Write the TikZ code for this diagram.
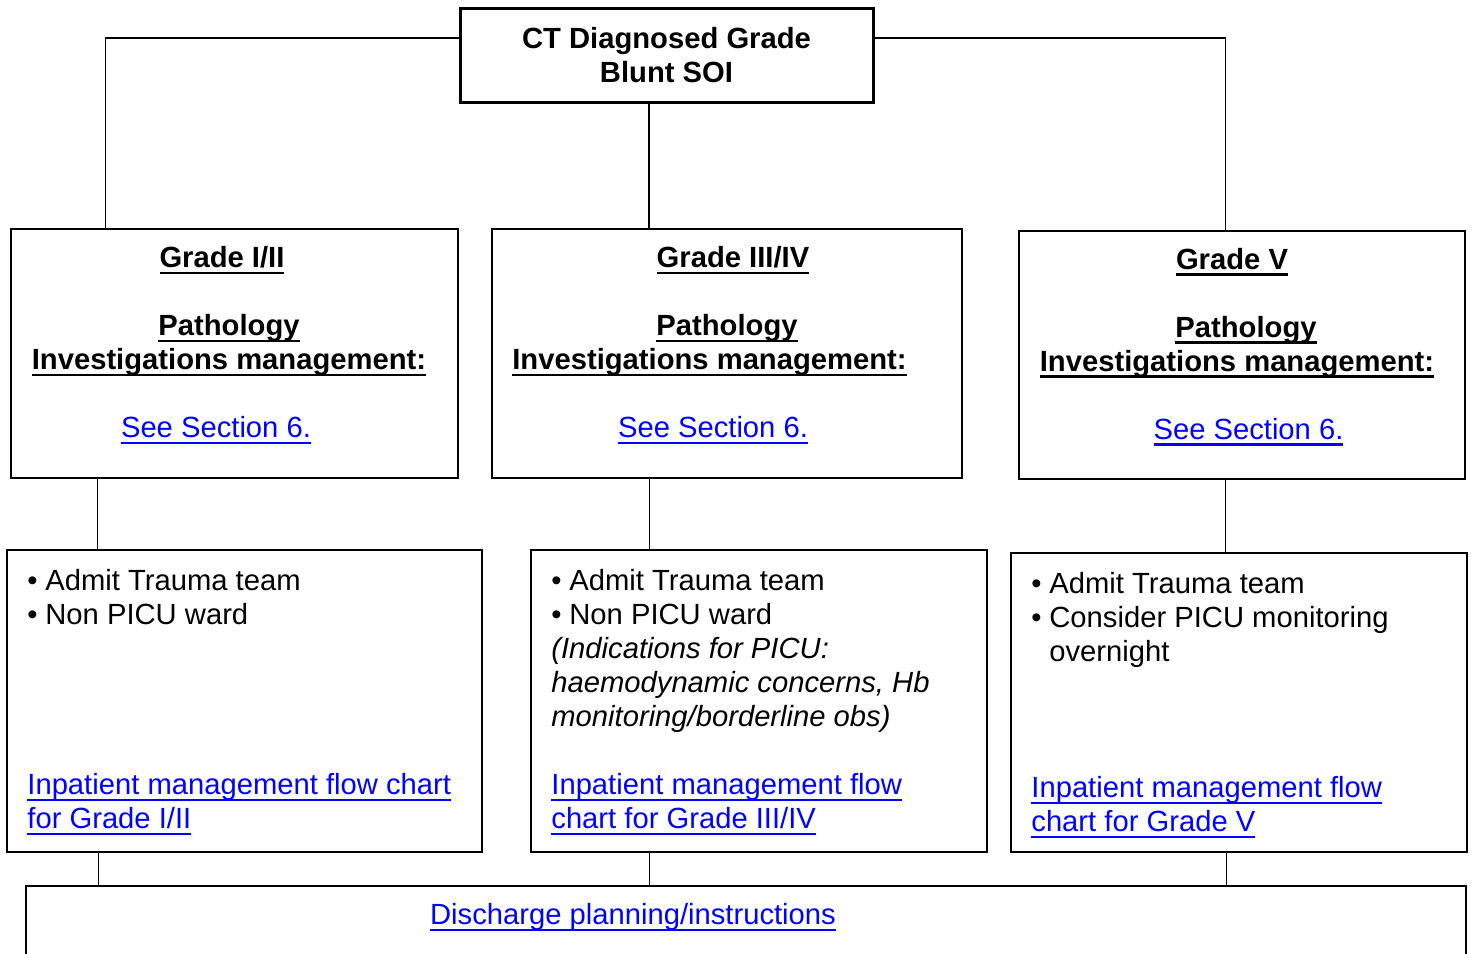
\documentclass[tikz,border=0pt]{standalone}
\usepackage{fontspec}
\setmainfont{Liberation Sans}
\definecolor{linkblue}{RGB}{0,0,255}
\newsavebox{\ulbox}
\newcommand{\uln}[1]{\sbox{\ulbox}{#1}\rlap{\usebox{\ulbox}}\rule[-3.3pt]{\wd\ulbox}{1.3pt}}
\newcommand{\bul}{\makebox[9pt][l]{\textbullet}}
\newcommand{\lnk}[1]{\textcolor{linkblue}{\uln{#1}}}
\newcommand{\hd}[1]{\textbf{\uln{#1}}}
\newcommand{\basefont}{\fontsize{14.6}{17}\selectfont}

\tikzset{
  box/.style={draw, line width=0.75pt, inner sep=0pt},
  topbox/.style={box, line width=1.5pt, align=center, font=\basefont\bfseries},
  boxtext/.style={inner sep=0pt, align=center},
  listtext/.style={inner sep=0pt, align=left, anchor=north west},
  wire/.style={line width=0.75pt}
}

\begin{document}
\begin{tikzpicture}[x=0.5pt, y=-0.5pt, font=\basefont]
\useasboundingbox (0,0) rectangle (1472,953);
\clip (0,0) rectangle (1472,953);

% top
\node[topbox, minimum width=206.5pt, minimum height=47pt] (ct) at (666.5,55) {CT Diagnosed Grade\\Blunt SOI};

% grade boxes
\node[box, minimum width=223.5pt, minimum height=124.5pt] (g1) at (234.5,353.5) {};
\node[box, minimum width=235pt, minimum height=124.5pt] (g2) at (727,353.5) {};
\node[box, minimum width=223pt, minimum height=124pt] (g3) at (1242,355) {};

\node[boxtext, anchor=north] (g1t) at (229,246) {\hd{Grade I/II}\hspace*{7pt}\\[17pt]\hd{Pathology}\hspace*{5pt}\\\hd{Investigations management:}\\[17pt]\lnk{See Section 6.}\hspace*{13pt}};
\node[boxtext, anchor=north] (g2t) at (709.5,246) {\hspace*{23.5pt}\hd{Grade III/IV}\\[17pt]\hspace*{17.5pt}\hd{Pathology}\\\hd{Investigations management:}\\[17pt]\hspace*{3.5pt}\lnk{See Section 6.}};
\node[boxtext, anchor=north] (g3t) at (1237,247.5) {\hd{Grade V}\hspace*{5pt}\\[17pt]\hspace*{9pt}\hd{Pathology}\\\hd{Investigations management:}\\[17pt]\hspace*{11.5pt}\lnk{See Section 6.}};

% admission boxes
\node[box, minimum width=237.5pt, minimum height=151pt] (b1) at (244.5,701) {};
\node[box, minimum width=228pt, minimum height=151pt] (b2) at (759,701) {};
\node[box, minimum width=228pt, minimum height=149.5pt] (b3) at (1239,702.5) {};

\node[listtext] (b1t) at (27,569) {\bul Admit Trauma team\\\bul Non PICU ward};
\node[listtext] (b2t) at (551,569) {\bul Admit Trauma team\\\bul Non PICU ward\\\textit{(Indications for PICU:}\\\textit{haemodynamic concerns, Hb}\\\textit{monitoring/borderline obs)}};
\node[listtext] (b3t) at (1031,572) {\bul Admit Trauma team\\\bul Consider PICU monitoring\\\hspace*{9pt}overnight};

\node[listtext] (b1l) at (27,773) {\lnk{Inpatient management flow chart}\\\lnk{for Grade I/II}};
\node[listtext] (b2l) at (551,773) {\lnk{Inpatient management flow}\\\lnk{chart for Grade III/IV}};
\node[listtext] (b3l) at (1031,776) {\lnk{Inpatient management flow}\\\lnk{chart for Grade V}};

% discharge
\node[box, minimum width=720pt, minimum height=67pt] (dis) at (746,953) {};
\node[boxtext, anchor=north] (dist) at (633,903) {\lnk{Discharge planning/instructions}};

% connectors
\draw[wire] ([yshift=8.5pt]ct.west) -| ([xshift=47.5pt]g1.north west);
\draw[wire] ([yshift=8.5pt]ct.east) -| ([xshift=103.5pt]g3.north west);
\draw[wire] ([xshift=-8.75pt]ct.south) coordinate (c0) -- (c0 |- g2.north);

\draw[wire] ([xshift=43.5pt]g1.south west) coordinate (c1) -- (c1 |- b1.north);
\draw[wire] ([xshift=79pt]g2.south west) coordinate (c2) -- (c2 |- b2.north);
\draw[wire] ([xshift=103.5pt]g3.south west) coordinate (c3) -- (c3 |- b3.north);

\draw[wire] ([xshift=46pt]b1.south west) coordinate (d1) -- (d1 |- dis.north);
\draw[wire] ([xshift=59.5pt]b2.south west) coordinate (d2) -- (d2 |- dis.north);
\draw[wire] ([xshift=108pt]b3.south west) coordinate (d3) -- (d3 |- dis.north);
\end{tikzpicture}
\end{document}
